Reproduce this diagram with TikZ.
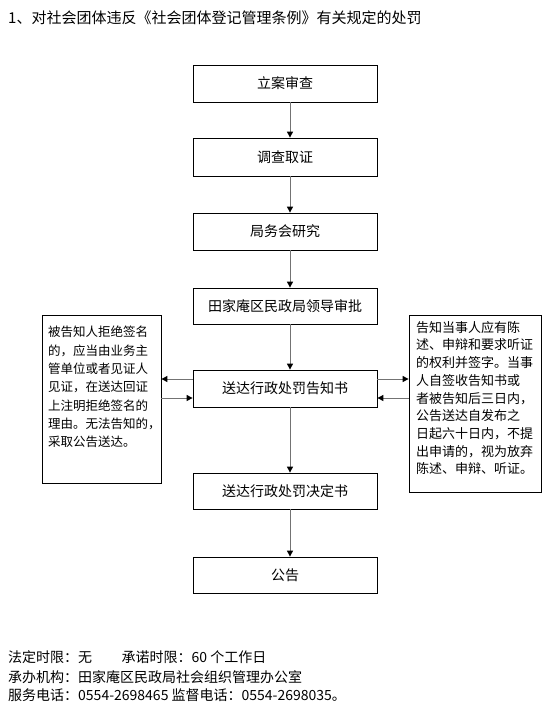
\documentclass[tikz,border=0pt]{standalone}
\usepackage{fontspec}
\setmainfont{Noto Sans CJK SC}
\usetikzlibrary{arrows.meta}
\begin{document}
\begin{tikzpicture}[x=1pt,y=-1pt,
  box/.style={draw=black,line width=0.8pt,fill=white,inner sep=0pt,minimum width=184pt,font=\fontsize{14}{16}\selectfont},
  side/.style={draw=black,line width=0.8pt,fill=white,inner sep=0pt},
  sidetext/.style={inner sep=0pt,anchor=north west,align=left},
  arr/.style={draw=black!55,line width=1pt,-{Triangle[color=black,length=6pt,width=6pt]}},
  plain/.style={inner sep=0pt,anchor=west,font=\fontsize{14}{16}\selectfont}]
\useasboundingbox (0,0) rectangle (558,713);
\node[plain,font=\fontsize{15}{17}\selectfont] (title) at (8,18) {1、对社会团体违反《社会团体登记管理条例》有关规定的处罚};
\node[box,minimum height=37pt] (b1) at (285,83.5) {立案审查};
\node[box,minimum height=38pt] (b2) at (285,157) {调查取证};
\node[box,minimum height=37pt] (b3) at (285,231.5) {局务会研究};
\node[box,minimum height=36pt] (b4) at (285,306) {田家庵区民政局领导审批};
\node[box,minimum height=37pt] (b5) at (285,388.5) {送达行政处罚告知书};
\node[box,minimum height=36pt] (b6) at (285,491) {送达行政处罚决定书};
\node[box,minimum height=36pt] (b7) at (285,575) {公告};
\node[side,minimum width=119pt,minimum height=168pt] (L) at (101.5,399) {};
\node[side,minimum width=132pt,minimum height=177pt] (R) at (475,403.5) {};
\node[sidetext,font=\fontsize{12.5}{18.3}\selectfont] (Lt) at (48,326) {被告知人拒绝签名\\的，应当由业务主\\管单位或者见证人\\见证，在送达回证\\上注明拒绝签名的\\理由。无法告知的，\\采取公告送达。};
\node[sidetext,font=\fontsize{13}{17.7}\selectfont] (Rt) at (416,321) {告知当事人应有陈\\述、申辩和要求听证\\的权利并签字。当事\\人自签收告知书或\\者被告知后三日内，\\公告送达自发布之\\日起六十日内，不提\\出申请的，视为放弃\\陈述、申辩、听证。};
\coordinate (ax) at (290,0);
\draw[arr] (b1.south -| ax) -- (b2.north -| ax);
\draw[arr] (b2.south -| ax) -- (b3.north -| ax);
\draw[arr] (b3.south -| ax) -- (b4.north -| ax);
\draw[arr] (b4.south -| ax) -- (b5.north -| ax);
\draw[arr] (b5.south -| ax) -- (b6.north -| ax);
\draw[arr] (b6.south -| ax) -- (b7.north -| ax);
\coordinate (y1) at (0,379);
\coordinate (y2) at (0,398);
\draw[arr] (b5.west |- y1) -- (L.east |- y1);
\draw[arr] (L.east |- y2) -- (b5.west |- y2);
\draw[arr] (b5.east |- y1) -- (R.west |- y1);
\draw[arr] (R.west |- y2) -- (b5.east |- y2);
\node[plain] (f1) at (8,657) {法定时限：无\hspace{2.1em}承诺时限：60 个工作日};
\node[plain] (f2) at (8,677) {承办机构：田家庵区民政局社会组织管理办公室};
\node[plain] (f3) at (8,695) {服务电话：0554-2698465 监督电话：0554-2698035。};
\end{tikzpicture}
\end{document}
